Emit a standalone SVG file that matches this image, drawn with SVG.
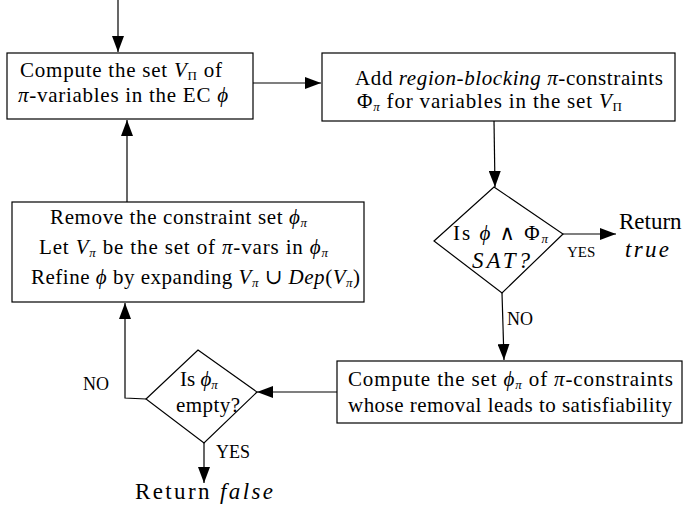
<svg xmlns="http://www.w3.org/2000/svg" width="686" height="508" viewBox="0 0 686 508">
<defs>
<marker id="ah" markerUnits="userSpaceOnUse" markerWidth="16" markerHeight="12" refX="16" refY="6" orient="auto">
<path d="M0,0 L16,6 L0,12 z" fill="#000"/>
</marker>
<style>
text{font-family:"Liberation Serif","DejaVu Serif",serif;font-size:21px;fill:#000}
.i{font-style:italic}
.s{font-size:13px}
.lbl{font-size:18px}
.sm{font-size:15px}
.big{font-size:23px}
.box{fill:#fff;stroke:#000;stroke-width:1.2}
.c{fill:none;stroke:#000;stroke-width:1.2}
.a{marker-end:url(#ah)}
</style>
</defs>
<rect width="686" height="508" fill="#fff"/>
<g id="connectors">
<path class="c a" d="M118,0 L118,52"/>
<path class="c a" d="M253,83 L321,83"/>
<path class="c a" d="M494,121 L495,187"/>
<path class="c a" d="M563,234 L616,234"/>
<path class="c a" d="M502,293 L504,360"/>
<path class="c a" d="M337,392 L257,392"/>
<path class="c a" d="M146,399 L125,398 L125,303"/>
<path class="c a" d="M204,443 L204,483"/>
<path class="c a" d="M127,202 L127,120"/>
</g>
<g id="n1">
<rect class="box" x="7" y="53" width="246" height="66"/>
<text x="20" y="77" textLength="202">Compute the set <tspan class="i">V</tspan><tspan class="s" dy="3">Π</tspan><tspan dy="-3"> of</tspan></text>
<text x="18" y="102" textLength="210"><tspan class="i">π</tspan>-variables in the EC <tspan class="i">ϕ</tspan></text>
</g>
<g id="n2">
<rect class="box" x="322" y="53" width="353" height="68"/>
<text x="355" y="85" textLength="308">Add <tspan class="i">region-blocking</tspan> <tspan class="i">π</tspan>-constraints</text>
<text x="357" y="108" textLength="265">Φ<tspan class="s i" dy="3">π</tspan><tspan dy="-3"> for variables in the set </tspan><tspan class="i">V</tspan><tspan class="s" dy="3">Π</tspan></text>
</g>
<g id="n3">
<path class="box" d="M494,187 L563,234 L502,293 L434,241 Z"/>
<text x="453" y="240" textLength="95">Is <tspan class="i">ϕ</tspan> ∧ Φ<tspan class="s i" dy="3">π</tspan></text>
<text x="472" y="268" class="i big" textLength="58">SAT?</text>
</g>
<g id="n4">
<text x="619" y="229" class="big">Return</text>
<text x="625" y="257" class="i big" textLength="44">true</text>
<text x="567" y="257" class="sm">YES</text>
<text x="507" y="325" class="lbl">NO</text>
</g>
<g id="n5">
<rect class="box" x="337" y="361" width="345" height="62"/>
<text x="348" y="386" textLength="325">Compute the set <tspan class="i">ϕ</tspan><tspan class="s i" dy="3">π</tspan><tspan dy="-3"> of </tspan><tspan class="i">π</tspan>-constraints</text>
<text x="348" y="412" textLength="324">whose removal leads to satisfiability</text>
</g>
<g id="n6">
<path class="box" d="M198,350 L257,392 L204,443 L146,399 Z"/>
<text x="180" y="386">Is <tspan class="i">ϕ</tspan><tspan class="s i" dy="3">π</tspan></text>
<text x="176" y="412" textLength="64">empty?</text>
<text x="83" y="390" class="lbl">NO</text>
<text x="216" y="458" class="lbl">YES</text>
<text x="135" y="499" class="big" textLength="138">Return <tspan class="i">false</tspan></text>
</g>
<g id="n7">
<rect class="box" x="12" y="202" width="352" height="100"/>
<text x="50" y="224" textLength="257">Remove the constraint set <tspan class="i">ϕ</tspan><tspan class="s i" dy="3">π</tspan></text>
<text x="39" y="254" textLength="289">Let <tspan class="i">V</tspan><tspan class="s i" dy="3">π</tspan><tspan dy="-3"> be the set of </tspan><tspan class="i">π</tspan>-vars in <tspan class="i">ϕ</tspan><tspan class="s i" dy="3">π</tspan></text>
<text x="31" y="284" textLength="329">Refine <tspan class="i">ϕ</tspan> by expanding <tspan class="i">V</tspan><tspan class="s i" dy="3">π</tspan><tspan dy="-3"> ∪ </tspan><tspan class="i">Dep</tspan>(<tspan class="i">V</tspan><tspan class="s i" dy="3">π</tspan><tspan dy="-3">)</tspan></text>
</g>
</svg>
